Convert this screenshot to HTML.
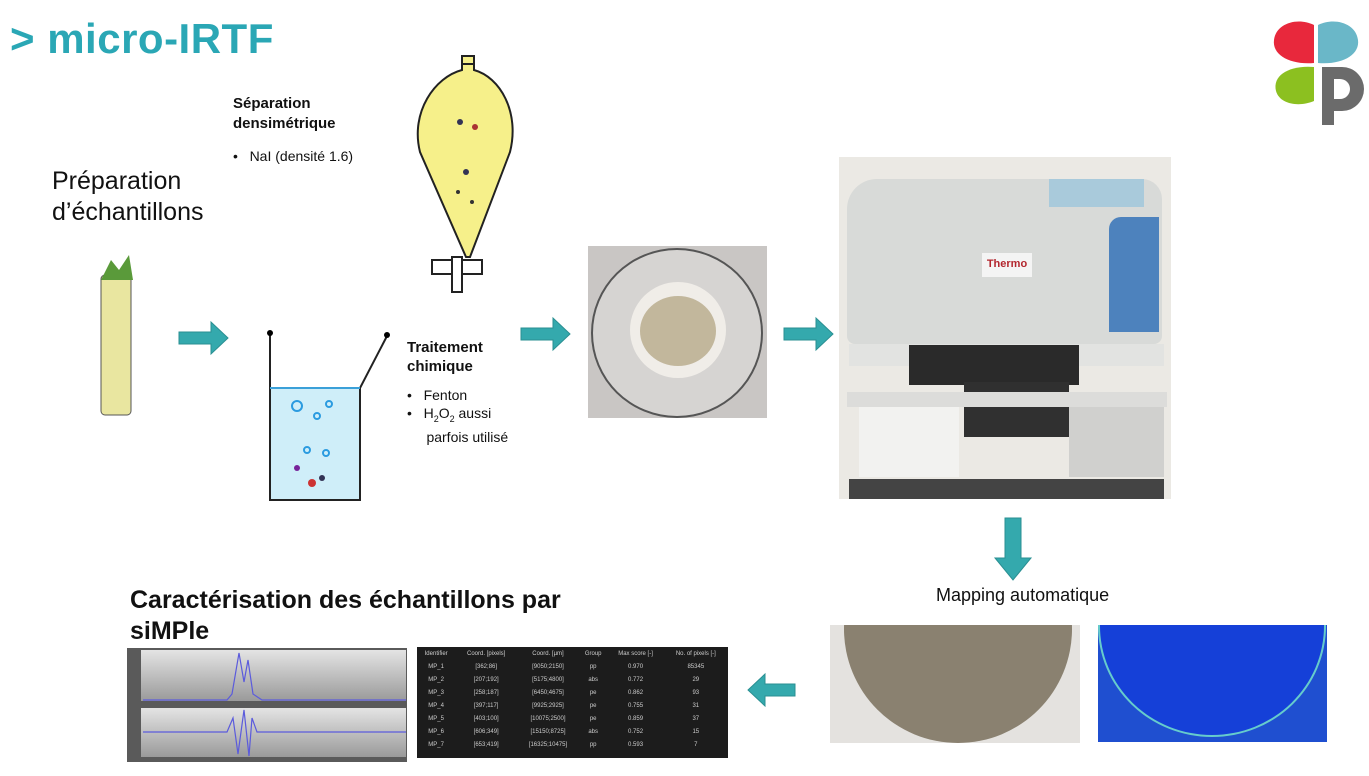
<!DOCTYPE html>
<html><head><meta charset="utf-8"><style>
body{margin:0;width:1369px;height:776px;background:#fff;position:relative;overflow:hidden;font-family:"Liberation Sans",sans-serif}
.a{position:absolute}
.t{position:absolute;color:#111}
</style></head><body>
<div class="t" style="left:10px;top:15px;font-size:42px;font-weight:bold;color:#2aa7b5;letter-spacing:0.5px">&gt; micro-IRTF</div>
<svg class="a" style="left:1270px;top:15px" width="95" height="112">
<path d="M44 48 C20 50 2 40 4 25 C6 8 28 2 44 10 Z" fill="#e8283c"/>
<path d="M48 48 C72 50 90 40 88 25 C86 8 64 2 48 10 Z" fill="#6ab7c8"/>
<path d="M44 52 C20 50 2 60 6 76 C10 90 30 92 44 86 Z" fill="#8cc020"/>
<path d="M52 52 h20 a22 22 0 0 1 0 44 h-8 v14 h-12 Z M64 64 v20 h6 a10 10 0 0 0 0 -20 Z" fill="#6b6b6b" fill-rule="evenodd"/>
</svg>
<div class="t" style="left:52px;top:166px;font-size:25px;line-height:31px">Préparation<br>d’échantillons</div>
<svg class="a" style="left:95px;top:250px" width="50" height="170"><rect x="6" y="25" width="30" height="140" rx="4" fill="#e9e6a0" stroke="#555"/><path d="M6 30 l10 -20 l8 10 l10 -15 l4 25" fill="#5a9a3a"/></svg>
<div class="t" style="left:233px;top:94px;font-size:15px;font-weight:bold;line-height:20px">Séparation<br>densimétrique</div>
<div class="t" style="left:233px;top:148px;font-size:14px">•&nbsp;&nbsp; NaI (densité 1.6)</div>
<svg class="a" style="left:410px;top:52px" width="110" height="245">
<path d="M52 10 h12 v8 C90 25 110 60 100 100 L60 205 L56 205 L10 100 C0 60 25 25 52 18 Z" fill="#f6f08a" stroke="#222" stroke-width="2"/>
<rect x="52" y="4" width="12" height="8" fill="#f6f08a" stroke="#222" stroke-width="2"/>
<rect x="22" y="208" width="50" height="14" fill="#fff" stroke="#222" stroke-width="2"/>
<rect x="42" y="205" width="10" height="35" fill="#fff" stroke="#222" stroke-width="2"/>
<circle cx="50" cy="70" r="3" fill="#335"/><circle cx="65" cy="75" r="3" fill="#a33"/><circle cx="56" cy="120" r="3" fill="#335"/><circle cx="48" cy="140" r="2" fill="#333"/><circle cx="62" cy="150" r="2" fill="#333"/>
</svg>
<svg class="a" style="left:262px;top:328px" width="130" height="175">
<rect x="8" y="60" width="90" height="112" fill="#cfeef9"/>
<path d="M8 5 V172 H98 V60 L125 8" fill="none" stroke="#222" stroke-width="2"/>
<line x1="8" y1="60" x2="98" y2="60" stroke="#3aa0d8" stroke-width="2"/>
<circle cx="8" cy="5" r="3"/><circle cx="125" cy="7" r="3"/>
<circle cx="35" cy="78" r="5" fill="none" stroke="#2b9be0" stroke-width="2"/><circle cx="55" cy="88" r="3" fill="none" stroke="#2b9be0" stroke-width="2"/><circle cx="67" cy="76" r="3" fill="none" stroke="#2b9be0" stroke-width="2"/><circle cx="45" cy="122" r="3" fill="none" stroke="#2b9be0" stroke-width="2"/><circle cx="64" cy="125" r="3" fill="none" stroke="#2b9be0" stroke-width="2"/>
<circle cx="50" cy="155" r="4" fill="#c33"/><circle cx="60" cy="150" r="3" fill="#335"/><circle cx="35" cy="140" r="3" fill="#729"/>
</svg>
<div class="t" style="left:407px;top:338px;font-size:15px;font-weight:bold;line-height:19px">Traitement<br>chimique</div>
<div class="t" style="left:407px;top:386px;font-size:14px;line-height:18px">•&nbsp;&nbsp; Fenton<br>•&nbsp;&nbsp; H<sub style="font-size:9px">2</sub>O<sub style="font-size:9px">2</sub> aussi<br>&nbsp;&nbsp;&nbsp;&nbsp; parfois utilisé</div>
<svg class="a" style="left:0;top:0" width="1369" height="776">
<g fill="#34a9ad" stroke="#2a8f92" stroke-width="1">
<path d="M179 332 h32 v-10 l17 16 l-17 16 v-10 h-32 Z"/>
<path d="M521 328 h32 v-10 l17 16 l-17 16 v-10 h-32 Z"/>
<path d="M784 328 h32 v-10 l17 16 l-17 16 v-10 h-32 Z"/>
<path d="M1005 518 h16 v40 h10 l-18 22 l-18 -22 h10 Z"/>
<path d="M795 684 h-30 v-10 l-17 16 l17 16 v-10 h30 Z"/>
</g></svg>
<div class="a" style="left:588px;top:246px;width:179px;height:172px;background:#c9c6c4">
<div class="a" style="left:3px;top:2px;width:168px;height:166px;border-radius:50%;background:#d6d4d2;border:2px solid #555"></div>
<div class="a" style="left:42px;top:36px;width:96px;height:96px;border-radius:50%;background:#f0ede8"></div>
<div class="a" style="left:52px;top:50px;width:76px;height:70px;border-radius:50%;background:#c2b79c"></div>
</div>
<div class="a" style="left:839px;top:157px;width:332px;height:342px;background:#ebe9e4">
<div class="a" style="left:8px;top:22px;width:315px;height:165px;background:#d8dad8;border-radius:30px 20px 8px 8px"></div>
<div class="a" style="left:210px;top:22px;width:95px;height:28px;background:#a9cadb"></div>
<div class="a" style="left:270px;top:60px;width:50px;height:115px;background:#4d82bd;border-radius:12px 0 0 0"></div>
<div class="a" style="left:143px;top:96px;width:50px;height:24px;background:#f4f4f4;color:#b3262e;font-size:11px;font-weight:bold;text-align:center;line-height:22px">Thermo</div>
<div class="a" style="left:10px;top:187px;width:315px;height:22px;background:#e2e3e1"></div>
<div class="a" style="left:70px;top:188px;width:170px;height:40px;background:#2a2a2a"></div>
<div class="a" style="left:125px;top:225px;width:105px;height:55px;background:#303030"></div>
<div class="a" style="left:8px;top:235px;width:320px;height:15px;background:#dcdcda"></div>
<div class="a" style="left:20px;top:250px;width:100px;height:70px;background:#f2f2f0"></div>
<div class="a" style="left:230px;top:250px;width:95px;height:70px;background:#d0d0ce"></div>
<div class="a" style="left:10px;top:322px;width:315px;height:20px;background:#444"></div>
</div>
<div class="t" style="left:936px;top:585px;font-size:18px">Mapping automatique</div>
<div class="a" style="left:830px;top:625px;width:250px;height:127px;background:#e4e2df;overflow:hidden">
<div class="a" style="left:14px;top:-110px;width:228px;height:228px;border-radius:50%;background:#8a8170"></div>
<div class="a" style="left:0;top:118px;width:250px;height:9px;background:#fff"></div>
</div>
<div class="a" style="left:1086px;top:625px;width:241px;height:127px;background:#fff;overflow:hidden">
<div class="a" style="left:12px;top:0;width:229px;height:117px;background:#1f4fd0"></div>
<div class="a" style="left:12px;top:-110px;width:228px;height:222px;border-radius:50%;background:#1540d8;border:2px solid #6cc;box-sizing:border-box"></div>
</div>
<div class="t" style="left:130px;top:585px;font-size:25px;font-weight:bold;line-height:31px">Caractérisation des échantillons par<br>siMPle</div>
<svg class="a" style="left:127px;top:648px" width="280" height="114">
<defs><linearGradient id="g" x1="0" y1="0" x2="0" y2="1"><stop offset="0" stop-color="#e4e4e4"/><stop offset="1" stop-color="#9a9a9a"/></linearGradient></defs>
<rect width="280" height="114" fill="#5a5a5a"/>
<rect x="14" y="2" width="265" height="51" fill="url(#g)"/>
<rect x="14" y="60" width="265" height="49" fill="url(#g)"/>
<path d="M16 52 L100 52 L105 46 L112 5 L117 34 L121 12 L126 46 L135 52 L279 52" fill="none" stroke="#5b5bdc" stroke-width="1.2"/>
<path d="M16 84 L100 84 L106 70 L111 106 L117 62 L122 108 L125 70 L130 84 L279 84" fill="none" stroke="#5b5bdc" stroke-width="1.2"/>
</svg>
<div class="a" style="left:417px;top:647px;width:311px;height:111px;background:#1c1c1c;color:#ccc;font-size:6px">
<table style="border-collapse:collapse;width:100%;text-align:center;font-size:6px;color:#ccc">
<tr style="height:13px"><td>Identifier</td><td>Coord. [pixels]</td><td>Coord. [µm]</td><td>Group</td><td>Max score [-]</td><td>No. of pixels [-]</td></tr>
<tr style="height:13px"><td>MP_1</td><td>[362;86]</td><td>[9050;2150]</td><td>pp</td><td>0.970</td><td>85345</td></tr>
<tr style="height:13px"><td>MP_2</td><td>[207;192]</td><td>[5175;4800]</td><td>abs</td><td>0.772</td><td>29</td></tr>
<tr style="height:13px"><td>MP_3</td><td>[258;187]</td><td>[6450;4675]</td><td>pe</td><td>0.862</td><td>93</td></tr>
<tr style="height:13px"><td>MP_4</td><td>[397;117]</td><td>[9925;2925]</td><td>pe</td><td>0.755</td><td>31</td></tr>
<tr style="height:13px"><td>MP_5</td><td>[403;100]</td><td>[10075;2500]</td><td>pe</td><td>0.859</td><td>37</td></tr>
<tr style="height:13px"><td>MP_6</td><td>[606;349]</td><td>[15150;8725]</td><td>abs</td><td>0.752</td><td>15</td></tr>
<tr style="height:13px"><td>MP_7</td><td>[653;419]</td><td>[16325;10475]</td><td>pp</td><td>0.593</td><td>7</td></tr>
</table></div>
</body></html>
